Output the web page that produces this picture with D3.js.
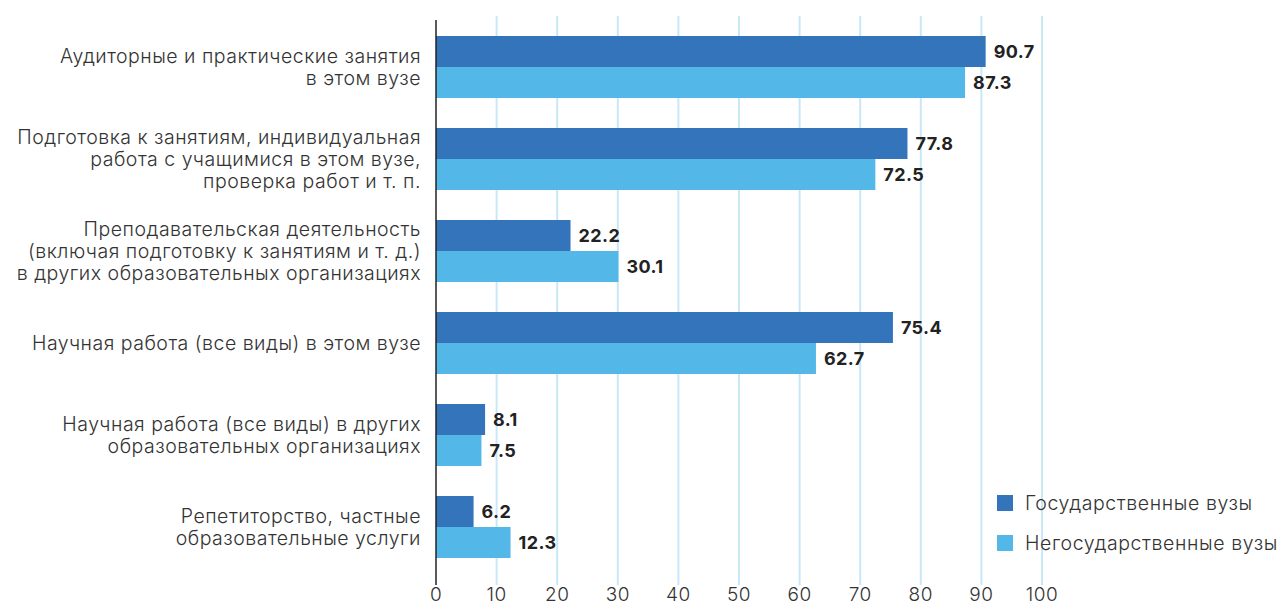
<!DOCTYPE html>
<html>
<head>
<meta charset="utf-8">
<script src="https://cdn.jsdelivr.net/npm/d3@7"></script>
<style>
  body { margin: 0; background: #fff; }
  svg text { font-family: Inter, "Noto Sans", sans-serif; }
</style>
</head>
<body>
<div id="chart"></div>
<script>
// categories (multi-line labels)
var categories = [
    ["Аудиторные и практические занятия", "в этом вузе"],
    ["Подготовка к занятиям, индивидуальная", "работа с учащимися в этом вузе,", "проверка работ и т. п."],
    ["Преподавательская деятельность", "(включая подготовку к занятиям и т. д.)", "в других образовательных организациях"],
    ["Научная работа (все виды) в этом вузе"],
    ["Научная работа (все виды) в других", "образовательных организациях"],
    ["Репетиторство, частные", "образовательные услуги"]
];
var seriesNames = ["Государственные вузы", "Негосударственные вузы"];
var stateVals = [90.7, 77.8, 22.2, 75.4, 8.1, 6.2];
var privateVals = [87.3, 72.5, 30.1, 62.7, 7.5, 12.3];
var xTicks = [0, 10, 20, 30, 40, 50, 60, 70, 80, 90, 100];

var colors = ["#3474bb", "#53b8e8"];
var W = 1287, H = 606;
var margin = {left: 436, top: 21, right: 245, bottom: 28};
var width = W - margin.left - margin.right;
var height = H - margin.top - margin.bottom;

var svg = d3.select("#chart").append("svg")
    .attr("width", W).attr("height", H);
var g = svg.append("g")
    .attr("transform", "translate(" + margin.left + "," + margin.top + ")");

var x = d3.scaleLinear().domain([0, 100]).range([0, width]);
var y = d3.scaleBand().domain(d3.range(categories.length))
    .range([0, 552]).paddingInner(30 / 92).paddingOuter(15 / 92);
var ySub = d3.scaleBand().domain([0, 1]).range([0, y.bandwidth()]);

// grid
g.selectAll(".grid").data(xTicks.slice(1)).enter().append("line")
    .attr("x1", function(d){ return x(d); }).attr("x2", function(d){ return x(d); })
    .attr("y1", -5).attr("y2", height + 7)
    .attr("stroke", "#c9e8f7").attr("stroke-width", 2);

// bars
var rows = categories.map(function(c, i){
    return [stateVals[i], privateVals[i]];
});
var grp = g.selectAll(".grp").data(rows).enter().append("g")
    .attr("transform", function(d, i){ return "translate(0," + y(i) + ")"; });
grp.selectAll("rect").data(function(d){ return d; }).enter().append("rect")
    .attr("x", 0)
    .attr("y", function(d, j){ return ySub(j); })
    .attr("width", function(d){ return x(d); })
    .attr("height", ySub.bandwidth())
    .attr("fill", function(d, j){ return colors[j]; });
grp.selectAll("text").data(function(d){ return d; }).enter().append("text")
    .attr("x", function(d){ return x(d) + 8; })
    .attr("y", function(d, j){ return ySub(j) + ySub.bandwidth() / 2; })
    .attr("dy", "0.36em")
    .attr("font-size", 18).attr("font-weight", 700).attr("fill", "#222")
    .attr("letter-spacing", 0.4)
    .text(function(d){ return d.toFixed(1); });

// axis line
g.append("line").attr("x1", 0).attr("x2", 0).attr("y1", -1).attr("y2", height + 7)
    .attr("stroke", "#222").attr("stroke-width", 1.5);

// x tick labels
g.selectAll(".xt").data(xTicks).enter().append("text")
    .attr("x", function(d){ return x(d); })
    .attr("y", height + 23)
    .attr("text-anchor", "middle")
    .attr("font-size", 19).attr("font-weight", 300).attr("fill", "#333")
    .attr("letter-spacing", 0.5)
    .text(function(d){ return d; });

// category labels
var lh = 22;
g.selectAll(".cat").data(categories).enter().append("text")
    .attr("text-anchor", "end")
    .attr("font-size", 19.5).attr("font-weight", 300).attr("fill", "#333")
    .attr("letter-spacing", 0.5)
    .each(function(lines, i){
        var cy = y(i) + y.bandwidth() / 2;
        var y0 = cy - (lines.length - 1) * lh / 2;
        d3.select(this).selectAll("tspan").data(lines).enter().append("tspan")
            .attr("x", -15)
            .attr("y", function(d, k){ return y0 + k * lh; })
            .attr("dy", "0.36em")
            .text(function(d){ return d; });
    });

// legend
var leg = svg.append("g").attr("transform", "translate(997,495)");
seriesNames.forEach(function(n, i){
    leg.append("rect").attr("x", 0).attr("y", i * 40).attr("width", 16).attr("height", 16)
        .attr("fill", colors[i]);
    leg.append("text").attr("x", 28).attr("y", i * 40 + 8).attr("dy", "0.36em")
        .attr("font-size", 19.5).attr("font-weight", 300).attr("fill", "#333")
        .attr("letter-spacing", 0.6)
        .text(n);
});
</script>
</body>
</html>
